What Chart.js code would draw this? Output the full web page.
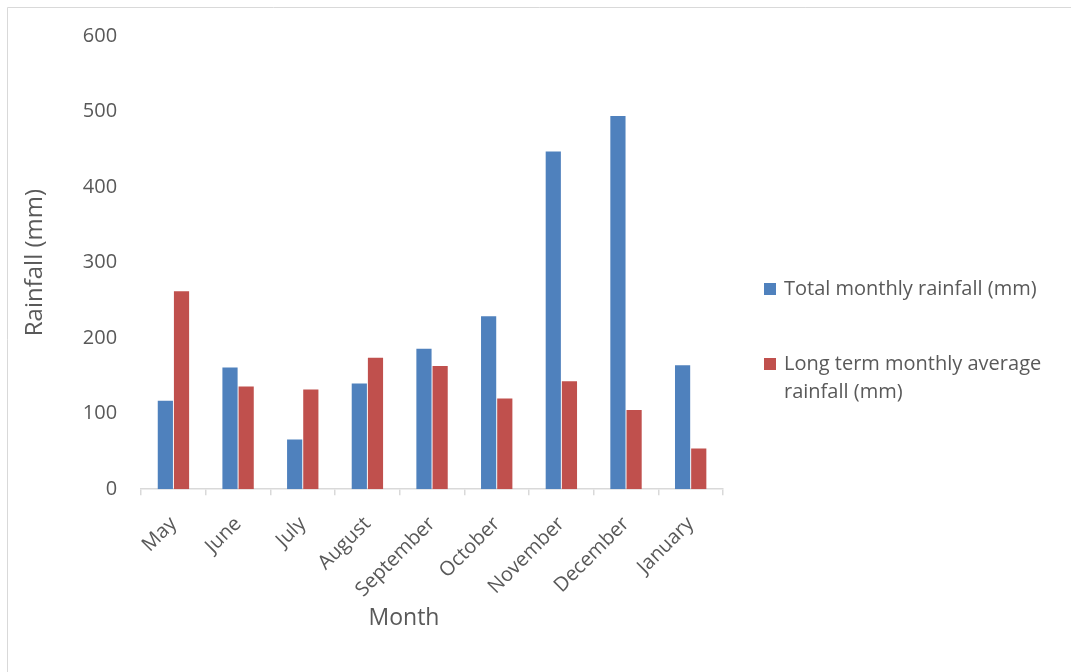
<!DOCTYPE html>
<html>
<head>
<meta charset="utf-8">
<script src="https://cdn.jsdelivr.net/npm/chart.js@4.4.1/dist/chart.umd.min.js"></script>
<style>
  html, body { margin: 0; padding: 0; background: #fff; }
  #wrap { width: 1071px; height: 672px; position: relative; }
</style>
</head>
<body>
<div id="wrap"><canvas id="c" width="1071" height="672"></canvas></div>
<script>
// Monthly rainfall, May to January
const months = ['May', 'June', 'July', 'August', 'September', 'October', 'November', 'December', 'January'];
const totalRainfall = [117, 161, 66, 140, 186, 229, 447, 494, 164];
const longTermAverage = [262, 136, 132, 174, 163, 120, 143, 105, 54];
const yTicks = [0, 100, 200, 300, 400, 500, 600];

const seriesNames = [
  'Total monthly rainfall (mm)',
  ['Long term monthly average', 'rainfall (mm)']
];
const xTitle = 'Month';
const yTitle = 'Rainfall (mm)';

const BLUE = '#4F81BD';
const RED = '#C0504D';
const TEXT = '#595959';
const FONT = '"Open Sans", sans-serif';

// Frame lines and white background
const framePlugin = {
  id: 'frame',
  beforeDraw(chart) {
    const ctx = chart.ctx;
    ctx.save();
    ctx.fillStyle = '#fff';
    ctx.fillRect(0, 0, chart.width, chart.height);
    ctx.strokeStyle = '#d9d9d9';
    ctx.lineWidth = 1;
    ctx.beginPath();
    ctx.moveTo(7.5, chart.height);
    ctx.lineTo(7.5, 7.5);
    ctx.lineTo(chart.width, 7.5);
    ctx.stroke();
    ctx.restore();
  }
};

// Category axis title, placed under the rotated month labels
const monthTitle = {
  id: 'monthTitle',
  afterDraw(chart) {
    const ctx = chart.ctx;
    ctx.save();
    ctx.font = '23px ' + FONT;
    ctx.fillStyle = TEXT;
    ctx.textAlign = 'center';
    ctx.textBaseline = 'middle';
    ctx.fillText(xTitle, 404, 618);
    ctx.restore();
  }
};

// Legend on the right with wrapped second entry
const sideLegend = {
  id: 'sideLegend',
  afterDraw(chart) {
    const ctx = chart.ctx;
    ctx.save();
    ctx.font = '20px ' + FONT;
    ctx.textBaseline = 'middle';
    const x = 764, tx = 784;
    const rows = [289, 364];
    chart.data.datasets.forEach((ds, i) => {
      const y = rows[i];
      ctx.fillStyle = ds.backgroundColor;
      ctx.fillRect(x, y - 6, 12, 12);
      ctx.fillStyle = TEXT;
      const lines = Array.isArray(ds.label) ? ds.label : [ds.label];
      lines.forEach((ln, k) => ctx.fillText(ln, tx, y + k * 28));
    });
    ctx.restore();
  }
};

new Chart(document.getElementById('c'), {
  type: 'bar',
  data: {
    labels: months,
    datasets: [
      { label: seriesNames[0], data: totalRainfall, backgroundColor: BLUE, borderWidth: 0 },
      { label: seriesNames[1], data: longTermAverage, backgroundColor: RED, borderWidth: 0 }
    ]
  },
  options: {
    responsive: false,
    animation: false,
    devicePixelRatio: 1,
    layout: { padding: { left: 21, right: 348, top: 26, bottom: 53 } },
    datasets: { bar: { categoryPercentage: 0.5, barPercentage: 0.94 } },
    plugins: {
      legend: { display: false },
      tooltip: { enabled: false }
    },
    scales: {
      x: {
        grid: {
          display: true,
          offset: true,
          drawOnChartArea: false,
          drawTicks: true,
          tickLength: 6,
          color: '#d9d9d9',
          lineWidth: 1.5
        },
        border: { display: true, color: '#d9d9d9', width: 1.5 },
        ticks: {
          color: TEXT,
          font: { family: FONT, size: 20 },
          maxRotation: 45,
          minRotation: 45,
          padding: 17
        },
        title: { display: false }
      },
      y: {
        min: 0,
        max: 600,
        afterBuildTicks(scale) { scale.ticks = yTicks.map(v => ({ value: v })); },
        grid: { display: false, drawTicks: false },
        border: { display: false },
        ticks: {
          color: TEXT,
          font: { family: FONT, size: 20 },
          padding: 24
        },
        title: {
          display: true,
          text: yTitle,
          color: TEXT,
          font: { family: FONT, size: 24 },
          padding: { top: 0, bottom: 9 }
        }
      }
    }
  },
  plugins: [framePlugin, monthTitle, sideLegend]
});
</script>
</body>
</html>
